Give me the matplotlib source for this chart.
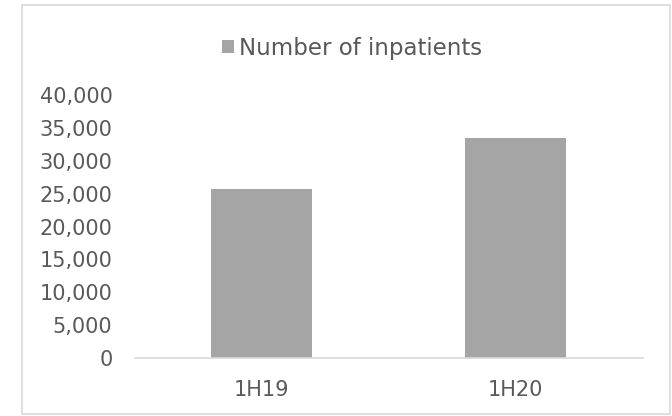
import matplotlib
matplotlib.use('Agg')
import matplotlib.pyplot as plt
from matplotlib.patches import Rectangle
from matplotlib.ticker import FuncFormatter

plt.rc('font', family=['DejaVu Sans'])

# Data
periods = ['1H19', '1H20']
inpatients = [25700, 33400]
series_name = 'Number of inpatients'

bar_color = '#A5A5A5'
text_color = '#595959'
line_color = '#D9D9D9'

fig = plt.figure(figsize=(6.72, 4.16), dpi=100)
ax = fig.add_axes([0.2004, 0.1394, 0.756, 0.6322])

ax.bar(range(len(periods)), inpatients, width=0.4, color=bar_color, label=series_name, zorder=2)

ax.set_xlim(-0.5, len(periods) - 0.5)
ax.set_ylim(0, 40000)
ax.set_yticks(range(0, 40001, 5000))
ax.yaxis.set_major_formatter(FuncFormatter(lambda v, p: f'{int(v):,}'))
ax.set_xticks(range(len(periods)))
ax.set_xticklabels(periods)

for s in ['top', 'right', 'left']:
    ax.spines[s].set_visible(False)
ax.spines['bottom'].set_color(line_color)
ax.spines['bottom'].set_linewidth(1.2)
ax.tick_params(axis='both', length=0, labelsize=15, colors=text_color)
ax.tick_params(axis='y', pad=16)
ax.tick_params(axis='x', pad=16)

# legend at top centre
leg = ax.legend(loc='center', bbox_to_anchor=(0.524, 0.884), bbox_transform=fig.transFigure,
                frameon=False, fontsize=16.5, handlelength=0.52, handleheight=0.52,
                handletextpad=0.2)
for t in leg.get_texts():
    t.set_color(text_color)

# chart border like the Excel chart area
fig.patches.append(Rectangle((22 / 672, 2 / 416), 648 / 672, 409 / 416, transform=fig.transFigure,
                             fill=False, edgecolor=line_color, linewidth=1.2))

fig.savefig('out.png', dpi=100)
